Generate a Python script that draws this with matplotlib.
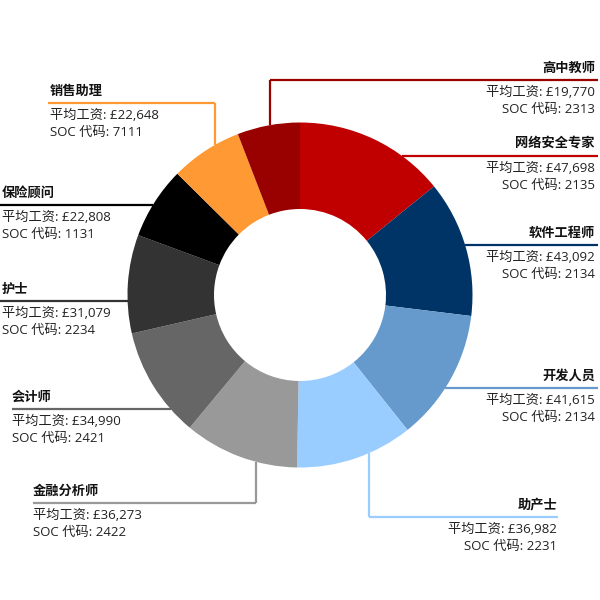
import numpy as np
import matplotlib
matplotlib.use("Agg")
import matplotlib.pyplot as plt

# --- data ---
jobs = ["网络安全专家", "软件工程师", "开发人员", "助产士", "金融分析师",
        "会计师", "护士", "保险顾问", "销售助理", "高中教师"]
salaries = [47698, 43092, 41615, 36982, 36273, 34990, 31079, 22808, 22648, 19770]
soc_codes = ["2135", "2134", "2134", "2231", "2422", "2421", "2234", "1131", "7111", "2313"]
colors = ["#c00000", "#003366", "#6699cc", "#99ccff", "#999999",
          "#666666", "#333333", "#000000", "#ff9933", "#990000"]

# --- layout (pixel space, y measured from top) ---
CX, CY, R = 300, 295, 172.5
# kind, line y (or elbow y), text x, align, elbow x (for vertical connectors), line start/end x
layout = {
    "网络安全专家": dict(ly=156, tx=595, ha="right", x0=None, x1=598, vx=None),
    "软件工程师":   dict(ly=245, tx=595, ha="right", x0=None, x1=598, vx=None),
    "开发人员":     dict(ly=388, tx=595, ha="right", x0=None, x1=598, vx=None),
    "助产士":       dict(ly=517, tx=557, ha="right", x0=369, x1=558, vx=369),
    "金融分析师":   dict(ly=503, tx=33, ha="left", x0=33, x1=256, vx=256),
    "会计师":       dict(ly=409, tx=12, ha="left", x0=12, x1=None, vx=None),
    "护士":         dict(ly=301, tx=2, ha="left", x0=0, x1=None, vx=None),
    "保险顾问":     dict(ly=205, tx=2, ha="left", x0=0, x1=None, vx=None),
    "销售助理":     dict(ly=103, tx=50, ha="left", x0=48, x1=215, vx=215),
    "高中教师":     dict(ly=80, tx=595, ha="right", x0=270, x1=598, vx=270),
}

plt.rcParams["font.family"] = ["Open Sans", "Noto Sans CJK SC", "DejaVu Sans"]

fig = plt.figure(figsize=(6, 6), dpi=100)
ax = fig.add_axes([0, 0, 1, 1])

def fy(py):
    return 600 - py

ax.pie(salaries, colors=colors, startangle=90, counterclock=False,
       radius=R, center=(CX, fy(CY)), frame=True,
       wedgeprops=dict(width=R - 86, linewidth=0))

for job, sal, soc, col in zip(jobs, salaries, soc_codes, colors):
    L = layout[job]
    ly = L["ly"]
    if L["vx"] is not None:
        vx = L["vx"]
        dy = np.sqrt(R ** 2 - (vx - CX) ** 2)
        edge_y = CY - dy if ly < CY else CY + dy
        ax.plot([vx, vx], [fy(edge_y), fy(ly)], color=col, lw=1.6,
                solid_capstyle="butt", zorder=1)
        x0, x1 = L["x0"], L["x1"]
    else:
        dx = np.sqrt(max(R ** 2 - (ly - CY) ** 2, 0))
        if L["ha"] == "right":
            x0, x1 = CX + dx, L["x1"]
        else:
            x0, x1 = L["x0"], CX - dx
    ax.plot([x0, x1], [fy(ly), fy(ly)], color=col, lw=1.6,
            solid_capstyle="butt", zorder=1)

    tx, ha = L["tx"], L["ha"]
    ax.text(tx, fy(ly - 12), job, ha=ha, va="center", fontsize=9.5,
            fontweight="bold", color="#111111")
    ax.text(tx, fy(ly + 12), f"平均工资: £{sal:,}", ha=ha, va="center",
            fontsize=9.5, color="#222222")
    ax.text(tx, fy(ly + 29), f"SOC 代码: {soc}", ha=ha, va="center",
            fontsize=9.5, color="#222222")

ax.set_xlim(0, 600)
ax.set_ylim(0, 600)
ax.set_aspect("equal")
ax.axis("off")

fig.savefig("out.png", dpi=100, facecolor="white")
